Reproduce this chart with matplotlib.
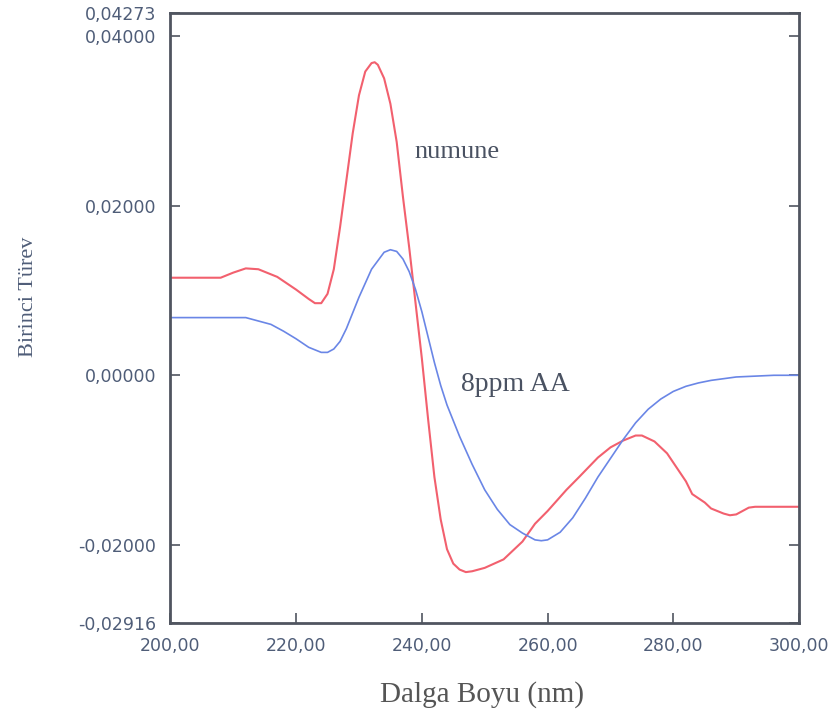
import matplotlib
matplotlib.use("Agg")
import matplotlib.pyplot as plt
from matplotlib.ticker import FixedLocator, FuncFormatter

# wavelength (nm) and first derivative values
x_numune = [200, 204, 208, 210, 212, 214, 217, 220, 222, 223, 224, 225, 226, 227, 228, 229, 230, 231,
            232, 232.5, 233, 234, 235, 236, 237, 238, 239, 240, 241, 242, 243, 244, 245, 246, 247,
            248, 250, 253, 256, 258, 260, 263, 265, 268, 270, 272, 274, 275, 277, 279, 280, 282,
            283, 285, 286, 288, 289, 290, 291, 292, 293, 296, 300]
y_numune = [0.0115, 0.0115, 0.0115, 0.0121, 0.0126, 0.0125, 0.0116, 0.0101, 0.0090, 0.0085, 0.0085,
            0.0096, 0.0125, 0.0175, 0.0230, 0.0285, 0.0330, 0.0358, 0.0368, 0.0369, 0.0366, 0.0350,
            0.0320, 0.0275, 0.0210, 0.0150, 0.0085, 0.0020, -0.0052, -0.0120, -0.0170, -0.0205,
            -0.0222, -0.0229, -0.0232, -0.0231, -0.0227, -0.0217, -0.0196, -0.0175, -0.0160,
            -0.0135, -0.0120, -0.0097, -0.0085, -0.0077, -0.0071, -0.0071, -0.0078, -0.0092,
            -0.0103, -0.0125, -0.0140, -0.0150, -0.0157, -0.0163, -0.0165, -0.0164, -0.0160,
            -0.0156, -0.0155, -0.0155, -0.0155]

x_aa = [200, 204, 208, 212, 216, 218, 220, 222, 224, 225, 226, 227, 228, 230, 232, 234, 235, 236,
        237, 238, 239, 240, 241, 242, 243, 244, 246, 248, 250, 252, 254, 256, 258, 259, 260, 262,
        264, 266, 268, 270, 272, 274, 276, 278, 280, 282, 284, 286, 288, 290, 293, 296, 300]
y_aa = [0.0068, 0.0068, 0.0068, 0.0068, 0.0060, 0.0052, 0.0043, 0.0033, 0.0027, 0.0027, 0.0031,
        0.0040, 0.0055, 0.0092, 0.0125, 0.0145, 0.0148, 0.0146, 0.0137, 0.0122, 0.0101, 0.0075,
        0.0045, 0.0015, -0.0012, -0.0035, -0.0072, -0.0105, -0.0135, -0.0158, -0.0176, -0.0186,
        -0.0194, -0.0195, -0.0194, -0.0185, -0.0168, -0.0145, -0.0120, -0.0098, -0.0076, -0.0056,
        -0.0040, -0.0028, -0.0019, -0.0013, -0.0009, -0.0006, -0.0004, -0.0002, -0.0001, 0.0000,
        0.0000]

x_ticks = [200, 220, 240, 260, 280, 300]
y_ticks = [-0.02916, -0.02, 0.0, 0.02, 0.04, 0.04273]

fig = plt.figure(figsize=(8.35, 7.10), dpi=100)
ax = fig.add_axes([0.204, 0.123, 0.753, 0.859])

ax.plot(x_numune, y_numune, color="#f2606e", lw=1.5)
ax.plot(x_aa, y_aa, color="#6a86e6", lw=1.2)

ax.set_xlim(200, 300)
ax.set_ylim(-0.02916, 0.04273)

# comma as decimal separator on both axes
ax.xaxis.set_major_locator(FixedLocator(x_ticks))
ax.yaxis.set_major_locator(FixedLocator(y_ticks))
ax.xaxis.set_major_formatter(FuncFormatter(lambda v, p: f"{v:.2f}".replace(".", ",")))
ax.yaxis.set_major_formatter(FuncFormatter(lambda v, p: f"{v:.5f}".replace(".", ",")))

tick_color = "#4f5d78"
ax.tick_params(axis="both", direction="in", length=7, width=1.2, color="#505560",
               labelcolor=tick_color, labelsize=12.5, pad=10)
ax.tick_params(axis="y", right=True)

for s in ax.spines.values():
    s.set_color("#505560")
    s.set_linewidth(2)

ax.set_xlabel("Dalga Boyu (nm)", family="Liberation Serif", fontsize=21, color="#555555")
ax.xaxis.set_label_coords(0.495, -0.095)
ax.set_ylabel("Birinci Türev", family="Liberation Serif", fontsize=16, color="#4f5d78")
ax.yaxis.set_label_coords(-0.21, 0.535)

ax.text(238.9, 0.0256, "numune", family="Liberation Serif", fontsize=19, color="#4a5262")
ax.text(246.2, -0.0018, "8ppm AA", family="Liberation Serif", fontsize=20, color="#4a5262")

fig.savefig("out.png", dpi=100)
